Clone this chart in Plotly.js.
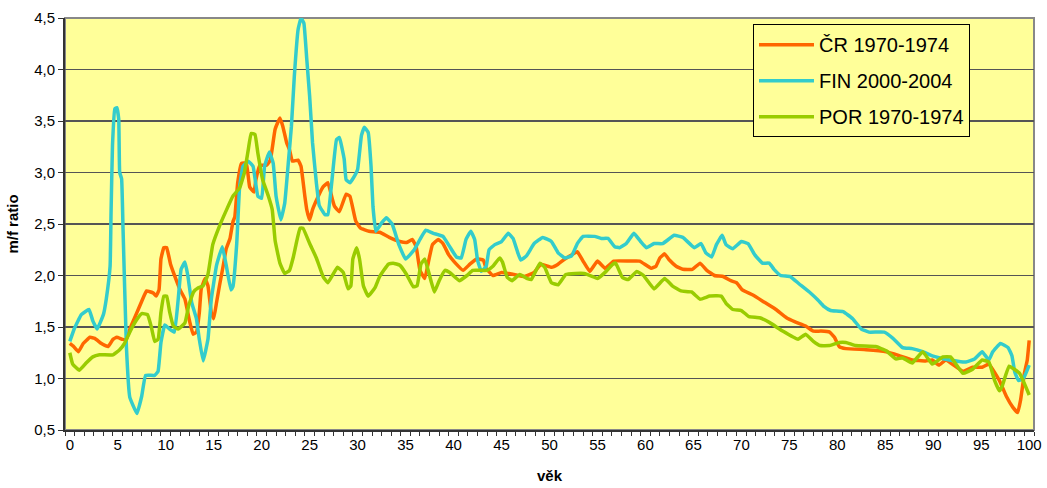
<!DOCTYPE html>
<html>
<head>
<meta charset="utf-8">
<script src="https://cdn.plot.ly/plotly-3.0.1.min.js"></script>
<style>html,body{margin:0;padding:0;background:#fff;}#chart{width:1047px;height:488px;}</style>
</head>
<body>
<div id="chart"></div>
<script>
const seriesNames = ["ČR 1970-1974", "FIN 2000-2004", "POR 1970-1974"];
const seriesColors = ["#FF6600", "#33CCCC", "#99CC00"];

const crAge = [0,0.4,0.9,1.4,2.1,2.6,3.3,4.0,4.5,4.9,5.5,5.9,6.3,6.9,7.5,8.0,8.7,9.0,9.3,9.5,9.8,10.1,10.5,11.0,11.5,12.0,12.5,12.85,13.2,13.5,13.7,14.1,14.4,14.75,15.0,15.3,15.6,16.0,16.3,16.7,17.0,17.2,17.5,17.9,18.4,18.75,19.2,19.4,19.8,20.5,20.9,21.4,21.9,22.2,22.6,22.9,23.2,23.8,24.1,24.5,24.7,25.0,25.3,25.9,26.4,26.9,27.4,27.6,28.1,28.8,29.2,29.8,30.3,31.2,32.3,33.3,34.4,35.1,35.7,36.1,36.5,37.0,37.4,37.8,38.4,38.9,39.5,40.1,41.0,41.7,42.4,43.1,43.4,44.1,45.0,46.3,47.4,48.4,49.1,50.2,50.9,51.6,52.3,52.9,53.5,54.2,55.0,55.8,56.7,58.3,59.4,60.6,61.1,61.5,62.0,62.5,63.2,63.9,64.9,65.7,66.4,67.2,68.1,68.9,69.5,70.1,71.2,72.4,73.6,74.7,75.6,76.7,77.5,78.3,79.2,79.7,80.2,80.9,83.0,85.1,86.5,87.8,89.2,89.9,90.6,91.3,93.1,94.1,95.1,95.8,96.9,97.6,98.3,98.8,99.1,99.5,99.8,100];
const crVal = [1.34,1.31,1.26,1.34,1.40,1.39,1.34,1.31,1.38,1.40,1.38,1.38,1.49,1.62,1.75,1.85,1.83,1.80,1.86,2.16,2.27,2.27,2.11,1.98,1.86,1.77,1.55,1.43,1.45,1.64,1.87,1.97,1.90,1.64,1.58,1.74,1.90,2.10,2.26,2.36,2.52,2.57,2.90,3.09,3.09,2.86,2.81,2.93,3.07,3.07,3.12,3.42,3.53,3.45,3.29,3.22,3.11,3.12,3.06,2.77,2.64,2.54,2.64,2.77,2.86,2.90,2.73,2.67,2.62,2.79,2.77,2.53,2.46,2.43,2.42,2.37,2.33,2.32,2.35,2.28,2.05,1.97,2.14,2.30,2.35,2.31,2.20,2.13,2.05,2.11,2.16,2.15,2.07,2.00,2.03,2.01,1.99,2.03,2.11,2.08,2.11,2.16,2.20,2.23,2.14,2.04,2.14,2.07,2.14,2.14,2.14,2.07,2.09,2.17,2.21,2.15,2.09,2.06,2.06,2.12,2.05,2.00,1.99,1.95,1.93,1.86,1.81,1.74,1.67,1.59,1.55,1.51,1.46,1.46,1.45,1.40,1.31,1.29,1.28,1.26,1.22,1.18,1.17,1.18,1.13,1.18,1.07,1.11,1.11,1.14,0.98,0.83,0.72,0.67,0.79,1.05,1.18,1.37];

const finAge = [0,0.5,1.2,2.0,2.4,2.85,3.5,3.8,4.2,4.3,4.45,4.7,4.9,5.1,5.2,5.4,5.55,5.9,6.25,7.0,7.5,7.9,8.85,9.2,9.5,9.9,10.4,10.9,11.3,11.6,12.0,12.3,12.7,13.2,13.5,13.9,14.4,14.75,15.3,15.9,16.3,16.8,17.0,17.4,17.7,18.05,18.6,19.1,19.6,20.0,20.3,20.8,21.2,21.5,22.0,22.4,22.8,23.1,23.4,23.8,24.1,24.4,24.7,25.0,25.3,25.7,26.0,26.6,26.9,27.3,27.8,28.1,28.6,28.8,29.2,29.7,30.0,30.4,30.7,31.1,31.4,31.6,31.9,32.5,33.0,33.6,34.3,35.0,35.9,36.5,37.1,37.9,38.9,39.6,40.3,40.8,41.3,41.8,42.2,42.5,42.9,43.4,43.7,44.3,45.0,45.7,46.2,46.7,47.0,47.6,48.4,49.3,50.2,50.9,51.6,52.3,52.9,53.5,54.7,55.4,56.1,56.8,57.3,58.0,58.8,59.5,60.1,60.9,61.8,63.0,63.9,65.1,65.8,66.3,66.9,67.4,68.0,68.4,69.1,70.0,70.7,71.4,72.2,72.9,73.4,74.1,75.1,76.0,77.2,78.0,78.6,79.3,80.6,81.6,82.5,83.3,84.9,85.8,86.8,87.8,88.9,89.9,91.7,93.4,94.3,95.1,95.8,96.2,97.0,97.8,98.2,98.5,98.9,99.4,100];
const finVal = [1.36,1.49,1.62,1.67,1.56,1.48,1.62,1.77,2.09,2.61,3.26,3.62,3.63,3.52,3.00,2.94,2.45,1.31,0.82,0.66,0.83,1.03,1.03,1.07,1.35,1.52,1.48,1.45,1.77,2.06,2.13,2.00,1.74,1.58,1.38,1.17,1.38,1.77,2.10,2.28,2.10,1.86,1.89,2.31,2.86,3.06,3.11,3.06,2.77,2.75,3.06,3.20,3.09,2.77,2.54,2.70,3.12,3.45,3.93,4.39,4.50,4.45,4.10,3.74,3.29,2.90,2.68,2.59,2.59,2.90,3.32,3.34,3.13,2.93,2.90,2.97,3.03,3.36,3.44,3.39,3.06,2.67,2.43,2.51,2.56,2.50,2.30,2.16,2.25,2.35,2.44,2.41,2.38,2.28,2.18,2.17,2.35,2.43,2.35,2.15,2.04,2.09,2.25,2.30,2.33,2.41,2.36,2.22,2.15,2.19,2.31,2.37,2.33,2.22,2.17,2.19,2.31,2.38,2.38,2.36,2.36,2.28,2.27,2.31,2.41,2.33,2.27,2.31,2.31,2.39,2.37,2.27,2.31,2.22,2.18,2.30,2.39,2.30,2.26,2.33,2.31,2.20,2.12,2.12,2.06,2.00,1.99,1.92,1.83,1.76,1.70,1.66,1.65,1.58,1.48,1.45,1.45,1.39,1.30,1.29,1.26,1.22,1.18,1.16,1.19,1.26,1.18,1.26,1.34,1.30,1.22,1.06,0.98,1.00,1.13];

const porAge = [0,0.3,1.0,1.7,2.4,3.1,4.5,5.2,5.7,6.3,6.9,7.5,8.1,8.5,8.85,9.2,9.5,9.8,10.1,10.4,10.8,11.3,12.0,12.4,12.9,13.4,13.9,14.4,14.9,15.6,16.3,17.0,17.7,18.2,18.6,18.9,19.3,19.6,20.1,20.7,21.1,21.4,21.9,22.4,22.9,23.3,23.6,24.0,24.3,25.0,25.7,26.4,26.9,27.9,28.5,29.0,29.3,29.5,29.9,30.2,30.6,31.1,31.8,32.3,33.2,33.7,34.4,35.1,35.8,36.2,36.6,37.0,37.5,38.0,38.5,39.1,39.6,40.6,41.4,42.0,43.5,44.1,44.8,45.1,45.6,46.1,46.9,47.7,48.1,49.0,49.5,50.2,50.9,51.7,52.7,53.6,54.5,55.0,55.9,56.6,56.9,57.6,58.2,59.1,59.8,60.9,62.0,62.8,63.7,64.8,65.7,66.7,67.9,68.4,69.1,70.0,70.8,71.9,73.0,74.3,75.9,76.7,77.5,78.2,79.2,80.2,80.9,81.9,84.0,85.1,86.1,86.8,87.8,88.9,89.9,91.0,91.8,93.1,94.1,95.1,95.8,96.4,96.9,97.2,97.9,99.0,100];
const porVal = [1.25,1.14,1.08,1.15,1.21,1.23,1.23,1.28,1.34,1.46,1.56,1.63,1.62,1.50,1.36,1.38,1.64,1.80,1.80,1.65,1.51,1.48,1.54,1.71,1.84,1.88,1.90,2.01,2.30,2.48,2.63,2.77,2.85,3.00,3.22,3.38,3.37,3.19,2.93,2.77,2.64,2.34,2.12,2.02,2.05,2.18,2.31,2.46,2.46,2.31,2.17,1.99,1.93,2.08,2.03,1.87,1.90,2.16,2.27,2.16,1.90,1.80,1.88,1.99,2.11,2.12,2.10,2.01,1.89,1.90,2.11,2.16,2.00,1.84,1.95,2.05,2.03,1.95,2.00,2.05,2.05,2.09,2.17,2.13,1.98,1.95,2.01,1.97,1.96,2.12,2.08,1.93,1.91,2.01,2.02,2.02,1.99,1.97,2.04,2.11,2.12,1.98,1.96,2.04,2.00,1.87,1.97,1.90,1.85,1.84,1.77,1.80,1.80,1.73,1.67,1.66,1.60,1.59,1.54,1.46,1.38,1.43,1.36,1.32,1.32,1.35,1.35,1.32,1.31,1.27,1.19,1.20,1.15,1.26,1.14,1.21,1.21,1.05,1.09,1.18,1.16,0.98,0.88,0.93,1.12,1.05,0.84];

const xTickVals = [0,5,10,15,20,25,30,35,40,45,50,55,60,65,70,75,80,85,90,95,100];
const yTickVals = [0.5,1.0,1.5,2.0,2.5,3.0,3.5,4.0,4.5];

const xs = [crAge, finAge, porAge];
const ys = [crVal, finVal, porVal];
const traces = seriesNames.map((n, i) => ({
  type: 'scatter', mode: 'lines', name: n, legendgroup: 'g' + i,
  x: xs[i], y: ys[i],
  line: {color: seriesColors[i], width: 3.5, shape: 'spline', smoothing: 0.3}
}));

const font = 'Arial, "Liberation Sans", sans-serif';
const layout = {
  width: 1047, height: 488,
  margin: {l: 65, r: 13, t: 18, b: 58},
  paper_bgcolor: '#ffffff', plot_bgcolor: '#FFFF99',
  separators: ',.',
  font: {family: font, size: 15, color: '#000'},
  showlegend: true,
  legend: {x: 0.71, y: 0.985, xanchor: 'left', yanchor: 'top',
    bgcolor: '#FFFF99', bordercolor: '#000', borderwidth: 1,
    font: {family: font, size: 20, color: '#000'}, tracegroupgap: 7, itemwidth: 55},
  xaxis: {range: [-0.5, 100.5], tickmode: 'array', tickvals: xTickVals,
    ticktext: xTickVals.map(String), ticks: '', showgrid: false, zeroline: false,
    showline: true, linecolor: '#333', linewidth: 2,
    minor: {tick0: -0.5, dtick: 1, ticks: 'outside', ticklen: 4, tickcolor: '#333', tickwidth: 1, showgrid: false},
    tickfont: {size: 15},
    title: {text: '<b>věk</b>', font: {size: 15}, standoff: 18}},
  yaxis: {range: [0.5, 4.5], tickmode: 'array', tickvals: yTickVals, tickformat: '.1f',
    ticks: 'outside', ticklen: 5, tickcolor: '#333',
    showgrid: true, gridcolor: '#555', gridwidth: 1.5, zeroline: false,
    showline: true, linecolor: '#333', linewidth: 2,
    tickfont: {size: 15},
    title: {text: '<b>m/f ratio</b>', font: {size: 15}, standoff: 12}},
  shapes: [{type: 'rect', xref: 'paper', yref: 'paper', x0: 0, x1: 1, y0: 0, y1: 1,
    line: {color: '#888', width: 2}, layer: 'below'}]
};
Plotly.newPlot('chart', traces, layout, {displayModeBar: false, staticPlot: true});
</script>
</body>
</html>
